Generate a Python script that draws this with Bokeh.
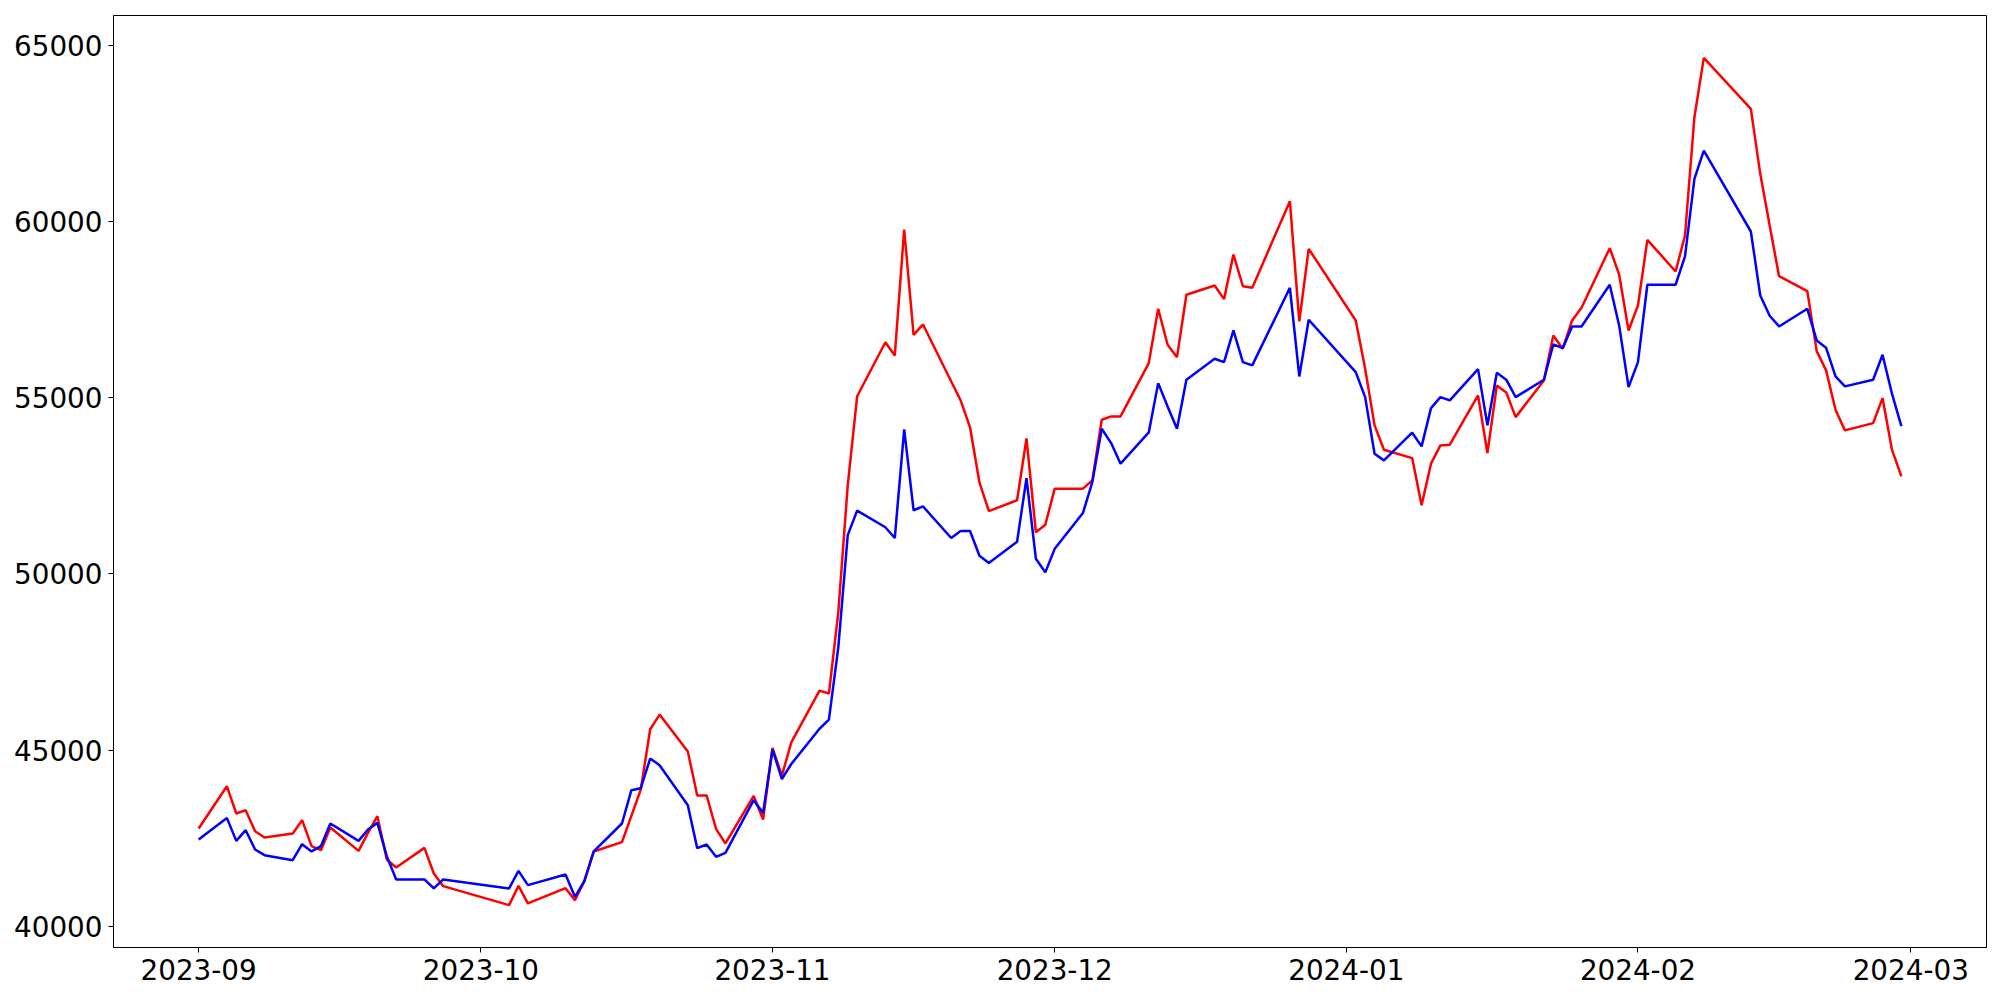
import pandas as pd
from bokeh.plotting import figure
from bokeh.models import FixedTicker, DatetimeTickFormatter, Range1d, BasicTickFormatter
from bokeh.embed import file_html
from bokeh.resources import INLINE

sep = ["2023-09-%02d" % d for d in [1, 4, 5, 6, 7, 8, 11, 12, 13, 14, 15, 18, 19, 20, 21, 22, 25, 26, 27]]
oct_ = ["2023-10-%02d" % d for d in [4, 5, 6, 10, 11, 12, 13, 16, 17, 18, 19, 20, 23, 24, 25, 26, 27, 30, 31]]
nov = ["2023-11-%02d" % d for d in [1, 2, 3, 6, 7, 8, 9, 10, 13, 14, 15, 16, 17, 20, 21, 22, 23, 24, 27, 28, 29, 30]]
dec = ["2023-12-%02d" % d for d in [1, 4, 5, 6, 7, 8, 11, 12, 13, 14, 15, 18, 19, 20, 21, 22, 26, 27, 28]]
jan = ["2024-01-%02d" % d for d in [2, 3, 4, 5, 8, 9, 10, 11, 12, 15, 16, 17, 18, 19, 22, 23, 24, 25, 26, 29, 30, 31]]
feb = ["2024-02-%02d" % d for d in [1, 2, 5, 6, 7, 8, 13, 14, 15, 16, 19, 20, 21, 22, 23, 26, 27, 28, 29]]
dates = sep + oct_ + nov + dec + jan + feb

red_values = [
    42772, 43973, 43198, 43292, 42696, 42517, 42630, 43008, 42270, 42157, 42800, 42137, 42648, 43121, 41893, 41666, 42222, 41495, 41135,
    40596, 41144, 40644, 41078, 40738, 41277, 42120, 42384, 43130, 43879, 45590, 46007, 44957, 43709, 43709, 42761, 42347, 43697, 43028,
    45060, 44274, 45216, 46686, 46603, 48925, 52514, 55045, 56578, 56200, 59779, 56788, 57083, 55462, 54929, 54163, 52597, 51785, 52092, 53845, 51183, 51396,
    52421, 52421, 52656, 54378, 54472, 54472, 55985, 57528, 56507, 56155, 57926, 58190, 57801, 59069, 58170, 58124, 60582, 57168, 59230,
    57196, 55826, 54217, 53527, 53289, 51947, 53130, 53649, 53669, 55068, 53431, 55352, 55153, 54452, 55494, 56771, 56394, 57196, 57557, 59248, 58502, 56913,
    57622, 59486, 58587, 59609, 62966, 64652, 63204, 61359, 59892, 58454, 58028, 56326, 55778, 54663, 54075, 54282, 54992, 53527, 52770,
]
blue_values = [
    42460, 43073, 42421, 42724, 42177, 42015, 41873, 42327, 42120, 42270, 42914, 42421, 42744, 42932, 41986, 41325, 41325, 41070, 41325,
    41070, 41570, 41163, 41467, 40832, 41277, 42120, 42914, 43859, 43916, 44759, 44569, 43434, 42213, 42318, 41967, 42080, 43575, 43215,
    45014, 44177, 44603, 45604, 45863, 47923, 51101, 51796, 51325, 51019, 54103, 51808, 51916, 51019, 51220, 51220, 50514, 50312, 50914, 52716, 50431, 50043,
    50712, 51728, 52608, 54123, 53715, 53130, 54018, 55417, 54756, 54123, 55514, 56110, 56013, 56913, 56013, 55920, 58124, 55607, 57216,
    55729, 55020, 53414, 53224, 54009, 53621, 54708, 55020, 54926, 55815, 54217, 55712, 55514, 55020, 55514, 56515, 56410, 57026, 57026, 58210, 57055, 55304,
    56013, 58210, 58210, 59013, 61217, 62021, 59722, 57906, 57330, 57026, 57528, 56629, 56421, 55607, 55324, 55514, 56223, 55117, 54197,
]
x_tick_dates = ["2023-09-01", "2023-10-01", "2023-11-01", "2023-12-01", "2024-01-01", "2024-02-01", "2024-03-01"]
y_ticks = [40000, 45000, 50000, 55000, 60000, 65000]

x = pd.to_datetime(dates)
t0, t1 = x.min(), x.max()
xpad = (t1 - t0) * 0.05
allv = red_values + blue_values
vmin, vmax = min(allv), max(allv)
ypad = (vmax - vmin) * 0.05

p = figure(width=1992, height=992, output_backend="svg", toolbar_location=None,
           x_axis_type="datetime",
           x_range=Range1d(t0 - xpad, t1 + xpad),
           y_range=Range1d(vmin - ypad, vmax + ypad),
           min_border_left=113, min_border_right=6, min_border_top=15, min_border_bottom=45)

p.line(x, red_values, line_color="red", line_width=2.5)
p.line(x, blue_values, line_color="blue", line_width=2.5)

p.xgrid.visible = False
p.ygrid.visible = False
p.outline_line_color = "black"
p.outline_line_width = 1
p.outline_line_alpha = 1

tick_ms = [pd.Timestamp(d).value / 1e6 for d in x_tick_dates]
p.xaxis.ticker = FixedTicker(ticks=tick_ms)
fmt = "%Y-%m"
p.xaxis.formatter = DatetimeTickFormatter(microseconds=fmt, milliseconds=fmt, seconds=fmt, minsec=fmt,
                                          minutes=fmt, hourmin=fmt, hours=fmt, days=fmt, months=fmt, years=fmt)
p.yaxis.ticker = FixedTicker(ticks=y_ticks)
p.yaxis.formatter = BasicTickFormatter(use_scientific=False)

for ax in (p.xaxis[0], p.yaxis[0]):
    ax.axis_line_color = "black"
    ax.axis_line_width = 1
    ax.major_tick_line_color = "black"
    ax.major_tick_line_width = 1
    ax.major_tick_out = 5
    ax.major_tick_in = 0
    ax.minor_tick_out = 0
    ax.minor_tick_in = 0
    ax.major_label_text_font = "DejaVu Sans"
    ax.major_label_text_font_size = "27.8px"
    ax.major_label_text_color = "black"
    ax.major_label_standoff = 6

p.background_fill_color = "white"
p.border_fill_color = "white"

open("out.html", "w").write(file_html(p, INLINE))
